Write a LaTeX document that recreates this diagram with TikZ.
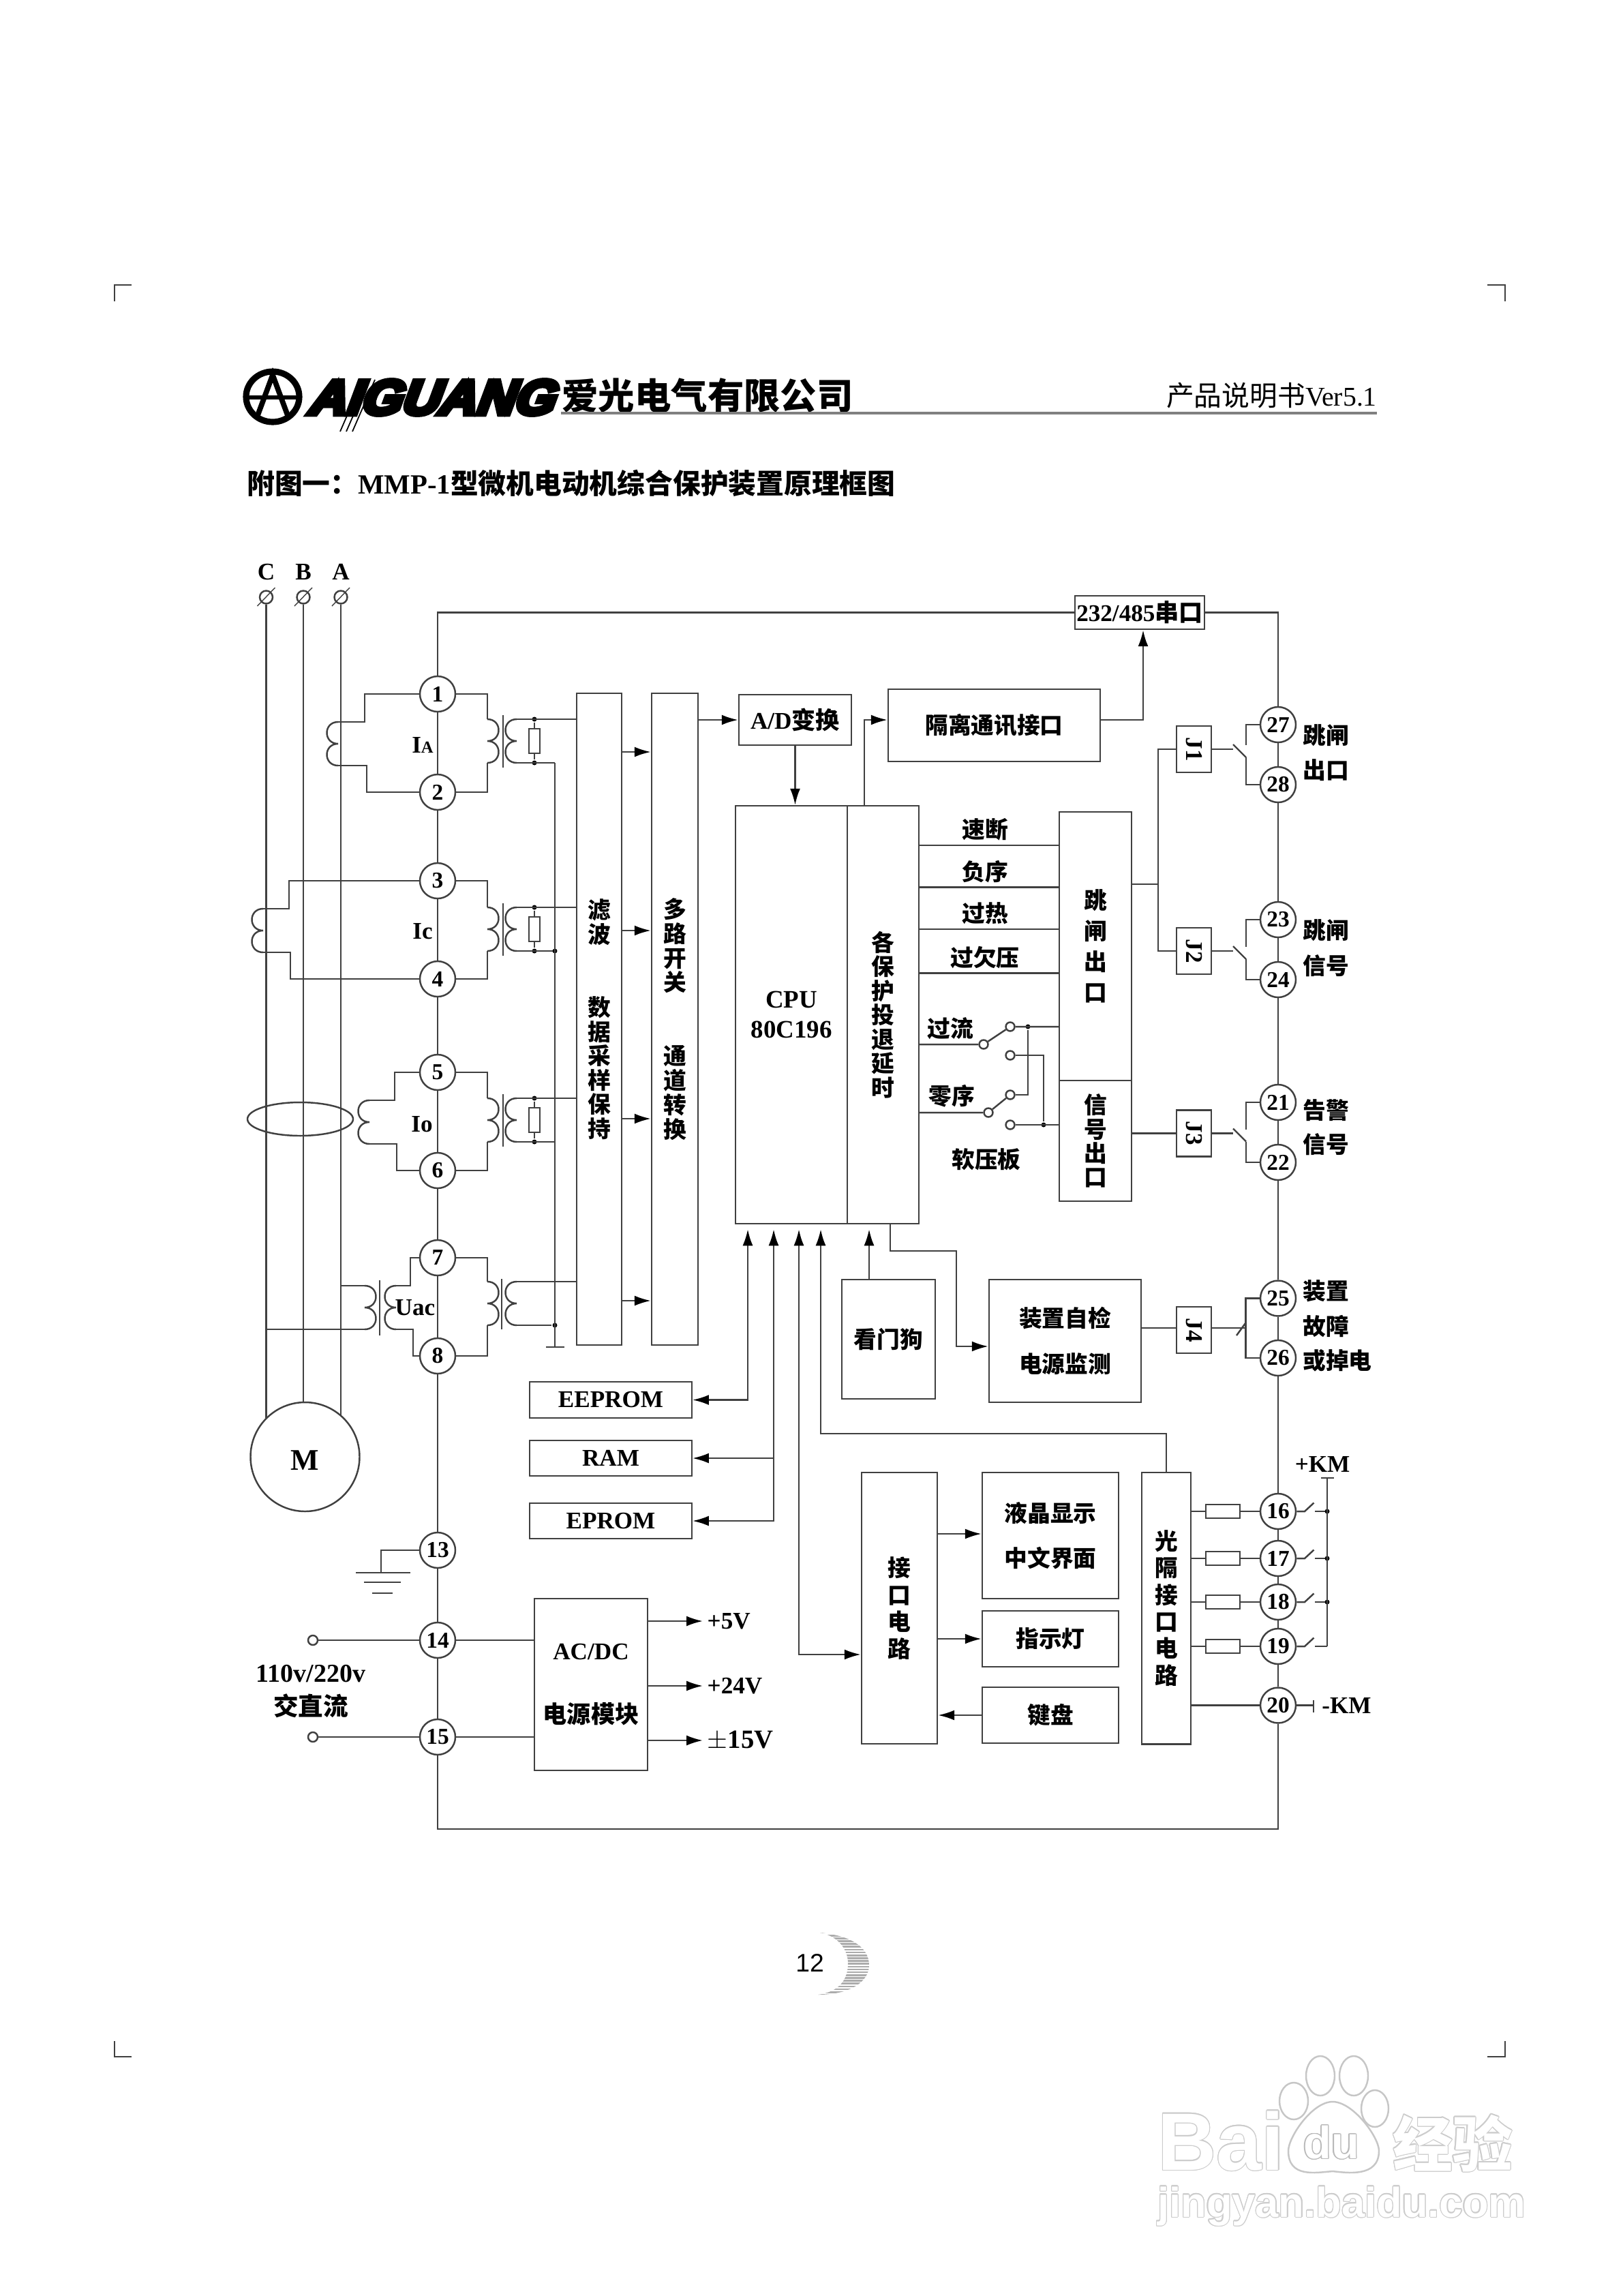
\documentclass[tikz,border=0pt]{standalone}
\usepackage{fontspec}
\usepackage{graphicx}
\usepackage{contour}
\usepackage{amsmath}
\usetikzlibrary{arrows.meta}
\setmainfont{Liberation Serif}
\newfontfamily\cjk{Noto Sans CJK SC}
\newfontfamily\sansf{Liberation Sans}
\newfontfamily\logofont[FakeSlant=.35,FakeBold=10]{Liberation Sans}
\newcommand{\zh}[1]{{\cjk #1}}
\contourlength{.35pt}
\definecolor{wiregrey}{gray}{.25}
\tikzset{
  every node/.style={text=black,inner sep=0pt,font=\bfseries\fontsize{10}{12}\selectfont},
  zh/.style={font=\bfseries\cjk\fontsize{9.6}{#1}\selectfont,align=center},
  zh/.default=11pt,
  block/.style={draw,rectangle,minimum width=#1},
  term/.style={draw,circle,fill=white,minimum size=.52cm,font=\bfseries\fontsize{9.5}{10}\selectfont},
  dot/.style={fill=black,circle,minimum size=.07cm},
  contact/.style={draw,circle,fill=white,minimum size=.13cm},
  shunt/.style={draw,rectangle,fill=white,minimum width=.16cm,minimum height=.36cm},
  series/.style={draw,rectangle,fill=white,minimum width=.5cm,minimum height=.2cm},
  relay/.style={draw,rectangle,minimum width=.51cm,minimum height=.68cm},
  >={Latex[length=2.4mm,width=1.5mm,black]},
  short/.style={shorten >=.07cm},
  coil/.pic={\draw (0,0) .. controls (.22,0) and (.22,.32) .. (0,.32)
    .. controls (.22,.32) and (.22,.64) .. (0,.64);},
  pawmark/.style={draw=gray!45,fill=white,line width=.7pt}
}
\begin{document}
\begin{tikzpicture}[y=-1cm,line width=.7pt,color=wiregrey]
  \useasboundingbox (0,0) rectangle (23.81,33.68);
  % page corners
  \draw (1.68,4.42) -- (1.68,4.18) -- (1.93,4.18);
  \draw (21.82,4.18) -- (22.08,4.18) -- (22.08,4.42);
  \draw (1.68,29.94) -- (1.68,30.17) -- (1.93,30.17);
  \draw (21.82,30.17) -- (22.08,30.17) -- (22.08,29.94);
  % header
  \draw[black,line width=2.6pt] (4.00,5.82) ellipse (.39 and .37);
  \draw[black,line width=2.2pt] (3.77,6.12) -- (4.00,5.50) -- (4.23,6.12);
  \draw[black,line width=1.8pt] (3.60,5.83) -- (4.40,5.83);
  \node (brand) at (6.30,5.83) {\resizebox{3.60cm}{.5cm}{\logofont AIGUANG}};
  \foreach \x in {4.99,5.08,5.17}
    \draw[black,line width=.5pt] (\x,6.33) -- ({\x+.33},5.57);
  \node (company) at (10.38,5.80) {\zh{\fontsize{15.2}{17}\selectfont 爱光电气有限公司}};
  \node[anchor=east,font=\mdseries\fontsize{11.3}{13}\selectfont] (manual) at (20.21,5.80)
    {\zh{\fontsize{11.6}{13}\selectfont 产品说明书}Ver5.1};
  \draw[line width=1.1pt,gray] (8.23,6.06) -- (20.20,6.06);
  \node[anchor=west,font=\bfseries\fontsize{11.6}{14}\selectfont] (heading) at (3.61,7.09)
    {\zh{附图一：}MMP-1\zh{型微机电动机综合保护装置原理框图}};

  % terminals
  \foreach \n/\y in {1/10.18,2/11.62,3/12.92,4/14.36,5/15.73,6/17.17,7/18.45,8/19.89,13/22.74,14/24.06,15/25.48}
    \node[term] (t\n) at (6.42,\y) {\n};
  \foreach \n/\y in {27/10.63,28/11.51,23/13.49,24/14.37,21/16.17,22/17.05,25/19.045,26/19.92,16/22.17,17/22.86,18/23.50,19/24.15,20/25.015}
    \node[term] (t\n) at (18.75,\y) {\n};
  \foreach \a/\b in {1/2,2/3,3/4,4/5,5/6,6/7,7/8,8/13,13/14,14/15,27/28,28/23,23/24,24/21,21/22,22/25,25/26,26/16,16/17,17/18,18/19,19/20}
    \draw (t\a) -- (t\b);

  % motor and phases
  \node[draw,circle,minimum size=1.6cm,font=\bfseries\fontsize{12.5}{14}\selectfont] (motor) at (4.475,21.37) {\raisebox{-.19cm}[0pt][0pt]{M}};
  \foreach \p/\lab/\x/\ang in {c/C/3.905/135,b/B/4.45/90,a/A/5.00/49} {
    \node[draw,circle,minimum size=.19cm] (p\p) at (\x,8.76) {};
    \node (lab\p) at (\x,8.39) {\lab};
    \draw[line width=.4pt] ({\x-.13},8.89) -- ({\x+.13},8.62);
    \draw (p\p) -- (p\p |- motor.\ang);
  }
  \draw (4.405,16.415) ellipse (.775 and .245);

  % sampling blocks
  \node[block=.665cm,minimum height=9.56cm,zh=10.1pt] (filt) at (8.79,14.95)
    {滤\\波\\[.72cm]数\\据\\采\\样\\保\\持};
  \node[block=.68cm,minimum height=9.56cm,zh=10.2pt] (mux) at (9.90,14.95)
    {多\\路\\开\\关\\[.72cm]通\\道\\转\\换};
  \foreach \y in {11.03,13.65,16.41,19.08}
    \draw[->] (filt.east |- 0,\y) -- (mux.west |- 0,\y);

  % current transformers
  \foreach \up/\low/\y/\n in {1/2/10.55/a,3/4/13.31/c,5/6/16.11/o} {
    \draw (t\up.east) -| (7.15,\y);
    \pic at (7.15,\y) {coil};
    \draw (t\low.east) -| (7.15,{\y+.64});
    \draw (7.38,{\y-.06}) -- (7.38,{\y+.71});
    \pic[xscale=-1] at (7.58,\y) {coil};
    \node[shunt] (shunt\n) at (7.84,{\y+.32}) {};
    \node[dot] (up\n) at (7.84,\y) {};
    \node[dot] (low\n) at (7.84,{\y+.64}) {};
    \draw (up\n) -- (shunt\n) -- (low\n);
    \draw (7.58,\y) -- (filt.west |- up\n);
    \draw (7.58,{\y+.64}) -- (8.14,{\y+.64});
  }
  \draw (t1.west) -| (5.35,10.59) -- (4.96,10.59);
  \pic[xscale=-1] at (4.96,10.59) {coil};
  \draw (4.96,11.23) -- (5.38,11.23) |- (t2.west);
  \node (ia) at (6.20,10.93) {I{\fontsize{7}{8}\selectfont A}};
  \draw (t3.west) -| (4.24,13.33) -- (3.86,13.33);
  \pic[xscale=-1] at (3.86,13.33) {coil};
  \draw (3.86,13.97) -- (4.26,13.97) |- (t4.west);
  \node (ic) at (6.20,13.66) {Ic};
  \draw (t5.west) -| (5.79,16.14) -- (5.42,16.14);
  \pic[xscale=-1] at (5.42,16.14) {coil};
  \draw (5.42,16.78) -- (5.82,16.78) |- (t6.west);
  \node (io) at (6.19,16.49) {Io};

  % voltage transformers
  \draw (pa |- 0,18.86) -- (5.35,18.86);
  \pic at (5.35,18.86) {coil};
  \draw (pc |- 0,19.50) -- (5.35,19.50);
  \draw (5.57,18.78) -- (5.57,19.59);
  \pic[xscale=-1] at (5.81,18.86) {coil};
  \draw (t7.west) -| (6.02,18.86) -- (5.81,18.86);
  \draw (t8.west) -| (6.06,19.50) -- (5.81,19.50);
  \node (uac) at (6.09,19.18) {Uac};
  \draw (t7.east) -| (7.15,18.80);
  \pic at (7.15,18.80) {coil};
  \draw (t8.east) -| (7.15,19.44);
  \draw (7.36,18.76) -- (7.36,19.50);
  \pic[xscale=-1] at (7.58,18.80) {coil};
  \draw (7.58,18.80) -- (filt.west |- 0,18.80);
  \node[dot] (common) at (8.14,19.44) {};
  \draw (7.58,19.44) -- (common);
  \node[dot] (commonc) at (8.14,13.95) {};
  \draw (8.14,11.19) -- (8.14,19.76);
  \draw (8.01,19.76) -- (8.28,19.76);

  % cpu
  \node[block=1.64cm,minimum height=6.13cm,align=center,font=\bfseries\fontsize{10.5}{12.4}\selectfont] (cpu) at (11.61,14.885) {CPU\\80C196};
  \node[block=1.05cm,minimum height=6.13cm,zh=10.1pt] (prot) at (12.955,14.885) {各\\保\\护\\投\\退\\延\\时};
  \node[block=1.65cm,minimum height=.74cm] (ad) at (11.665,10.56) {A/D\zh{变换}};
  \node[block=3.11cm,minimum height=1.06cm,zh] (iso) at (14.585,10.64) {隔离通讯接口};
  \node[block=1.90cm,minimum height=.49cm] (serial) at (16.72,8.985) {232/485\zh{串口}};
  \draw (t1) |- (serial.west);
  \draw (serial.east) -| (t27);
  \draw[->] (mux.east |- ad.west) -- (ad.west);
  \draw[->] (ad.south) -- (cpu.north -| ad.south);
  \draw[->] (12.68,0 |- prot.north) |- (iso.west |- 0,10.56);
  \draw[->] (iso.east |- 0,10.56) -| (16.77,0 |- serial.south);

  % outputs
  \node[block=1.06cm,minimum height=3.94cm,zh=12.8pt] (trip) at (16.07,13.88) {跳\\闸\\出\\口};
  \node[block=1.06cm,minimum height=1.77cm,zh=10pt] (sig) at (16.07,16.735) {信\\号\\出\\口};
  \foreach \y/\lab/\n in {12.40/速断/1,13.015/负序/2,13.63/过热/3,14.275/过欠压/4} {
    \draw (prot.east |- 0,\y) -- (trip.west |- 0,\y);
    \node[zh] (prot\n) at (14.45,{\y-.23}) {\lab};
  }
  \node[contact] (ka) at (14.43,15.32) {};
  \node[contact] (kb) at (14.82,15.06) {};
  \node[contact] (kc) at (14.82,15.48) {};
  \node[contact] (la) at (14.50,16.32) {};
  \node[contact] (lb) at (14.82,16.06) {};
  \node[contact] (lc) at (14.82,16.50) {};
  \node[dot] (tripdot) at (15.08,15.06) {};
  \node[dot] (sigdot) at (15.31,16.50) {};
  \draw (prot.east |- ka) -- (ka) -- (kb) -- (trip.west |- kb);
  \draw (prot.east |- la) -- (la) -- (lb);
  \draw (tripdot) |- (lb);
  \draw (lc) -- (sig.west |- lc);
  \draw (kc) -| (sigdot);
  \node[zh] (over) at (13.94,15.09) {过流};
  \node[zh] (zero) at (13.96,16.08) {零序};
  \node[zh] (soft) at (14.47,17.01) {软压板};

  % relays
  \coordinate (tripfork) at (16.99,12.97);
  \node[relay] (relay1) at (17.515,10.99) {\rotatebox{-90}{J1}};
  \node[relay] (relay2) at (17.515,13.95) {\rotatebox{-90}{J2}};
  \node[relay] (relay3) at (17.515,16.625) {\rotatebox{-90}{J3}};
  \node[relay] (relay4) at (17.515,19.51) {\rotatebox{-90}{J4}};
  \draw (trip.east |- tripfork) -- (tripfork);
  \draw (relay1.west) -| (tripfork) |- (relay2.west);
  \draw (sig.east |- relay3.west) -- (relay3.west);
  \foreach \j/\a/\b/\y in {1/27/28/10.99,2/23/24/13.95,3/21/22/16.625} {
    \coordinate (open\j) at (18.09,\y);
    \draw (relay\j.east) -- (open\j);
    \draw (open\j |- 0,{\y-.07}) -- (18.28,{\y+.12});
    \draw (t\a.west) -| (18.28,{\y-.06});
    \draw (t\b.west) -| (18.28,{\y+.12});
  }
  \node[block=2.23cm,minimum height=1.80cm,zh=19pt] (self) at (15.625,19.67) {装置自检\\电源监测};
  \node[block=1.37cm,minimum height=1.75cm,zh] (dog) at (13.035,19.645) {看门狗};
  \draw[->,short] (12.75,0 |- dog.north) -- (12.75,0 |- prot.south);
  \draw[->] (13.06,0 |- prot.south) |- (14.03,18.35) |- (self.west |- 0,19.75);
  \draw (self.east |- 0,19.48) -- (relay4.west |- 0,19.48);
  \draw (t25.west) -| (18.275,19.48) |- (t26.west);
  \draw (relay4.east |- 0,19.48) -- (18.275,19.48);
  \draw (18.14,19.59) -- (18.27,19.41);
  \node[zh] (alarm1) at (19.45,10.79) {跳闸};
  \node[zh] (alarm2) at (19.45,11.30) {出口};
  \node[zh] (alarm3) at (19.45,13.65) {跳闸};
  \node[zh] (alarm4) at (19.45,14.17) {信号};
  \node[zh] (alarm5) at (19.45,16.29) {告警};
  \node[zh] (alarm6) at (19.45,16.79) {信号};
  \node[zh] (alarm7) at (19.45,18.94) {装置};
  \node[zh] (alarm8) at (19.45,19.45) {故障};
  \node[zh] (alarm9) at (19.62,19.955) {或掉电};

  % memory
  \node[block=2.375cm,minimum height=.53cm] (eeprom) at (8.96,20.535) {EEPROM};
  \node[block=2.375cm,minimum height=.52cm] (ram) at (8.96,21.39) {RAM};
  \node[block=2.375cm,minimum height=.52cm] (eprom) at (8.96,22.31) {EPROM};
  \draw[<->,short] (eeprom.east) -| (10.97,0 |- cpu.south);
  \draw[<->,short] (eprom.east) -| (11.35,0 |- cpu.south);
  \draw[->] (11.35,0 |- ram.east) -- (ram.east);

  % interface
  \node[block=1.11cm,minimum height=3.98cm,zh=11.3pt] (iface) at (13.195,23.59) {接\\口\\电\\路};
  \node[block=2.0cm,minimum height=1.85cm,zh=18.9pt] (lcd) at (15.41,22.525) {液晶显示\\中文界面};
  \node[block=2.0cm,minimum height=.82cm,zh] (lamp) at (15.41,24.04) {指示灯};
  \node[block=2.0cm,minimum height=.82cm,zh] (keys) at (15.41,25.16) {键盘};
  \node[block=.725cm,minimum height=3.985cm,zh=11.2pt] (opto) at (17.11,23.59) {光\\隔\\接\\口\\电\\路};
  \draw[<->,shorten <=.07cm] (11.72,0 |- cpu.south) |- (iface.west |- 0,24.27);
  \draw[->] (iface.east |- 0,22.50) -- (lcd.west |- 0,22.50);
  \draw[->] (iface.east |- lamp.west) -- (lamp.west);
  \draw[->] (keys.west) -- (iface.east |- keys.west);
  \draw[->,short] (opto.north) |- (12.04,21.03) -- (12.04,0 |- cpu.south);
  \foreach \n/\y in {16/22.17,17/22.86,18/23.50,19/24.15} {
    \node[series] (r\n) at (17.94,\y) {};
    \draw (opto.east |- r\n) -- (r\n) -- (t\n);
    \draw (t\n.east) -- (19.14,\y) -- (19.275,{\y-.125});
    \draw (19.29,\y) -- (19.47,\y);
  }
  \foreach \n/\y in {16/22.17,17/22.86,18/23.50}
    \node[dot] (kmdot\n) at (19.47,\y) {};
  \draw (19.47,21.68) -- (19.47,24.15);
  \draw (19.38,21.68) -- (19.57,21.68);
  \node (pluskm) at (19.40,21.48) {+KM};
  \draw (t20) -- (opto.east |- t20);
  \draw (t20.east) -- (19.27,25.015);
  \draw (19.27,24.94) -- (19.27,25.12);
  \node (minuskm) at (19.755,25.015) {-KM};

  % ground and supply
  \draw (t13.west) -| (5.59,23.07);
  \draw (5.22,23.07) -- (6.02,23.07);
  \draw (5.34,23.21) -- (5.88,23.21);
  \draw (5.46,23.37) -- (5.76,23.37);
  \node[contact,minimum size=.14cm] (acin1) at (4.59,24.06) {};
  \node[contact,minimum size=.14cm] (acin2) at (4.59,25.48) {};
  \node[font=\bfseries\fontsize{10.8}{12}\selectfont] (acv) at (4.56,24.55) {110v/220v};
  \node[zh,font=\bfseries\cjk\fontsize{10.4}{12}\selectfont] (acdcl) at (4.56,25.02) {交直流};
  \node[block=1.66cm,minimum height=2.52cm,align=center] (acdc) at (8.67,24.71)
    {AC/DC\\[.5cm]\zh{电源模块}};
  \draw (acin1) -- (t14) -- (acdc.west |- t14);
  \draw (acin2) -- (t15) -- (acdc.west |- t15);
  \foreach \n/\y/\lab in {a/23.78/+5V,b/24.73/+24V,c/25.53/{\fontsize{11}{12}\selectfont$\pm$15V}} {
    \node[anchor=west,inner sep=.055cm] (out\n) at (10.31,\y) {\lab};
    \draw[->] (acdc.east |- out\n) -- (out\n.west);
  }
  \coordinate (busbase) at (18.75,26.83);
  \draw (t15) |- (busbase) -- (t20);

  % footer
  \node[font=\sansf\fontsize{10.6}{12}\selectfont] (pageno) at (11.88,28.79) {12};
  \begin{scope}
    \clip (12.03,28.35) .. controls (12.55,28.40) and (12.75,28.60) .. (12.75,28.83)
      .. controls (12.75,29.05) and (12.50,29.26) .. (12.00,29.26)
      .. controls (12.30,29.22) and (12.44,29.05) .. (12.44,28.80)
      .. controls (12.44,28.60) and (12.30,28.40) .. (12.03,28.35);
    \foreach \s in {0,...,22}
      \draw[gray!65,line width=.75pt] (11.9,{28.35+\s*.0415}) -- (12.8,{28.35+\s*.0415});
  \end{scope}

  % site mark
  \node[anchor=base west,text=white,font=\sansf\bfseries\fontsize{34}{40}\selectfont] (markbai) at (16.97,31.83) {\contour{gray!40}{Bai}};
  \draw[pawmark] (19.37,30.45) ellipse (.21 and .29);
  \draw[pawmark] (19.86,30.45) ellipse (.21 and .29);
  \draw[pawmark] (18.98,30.82) ellipse (.21 and .27);
  \draw[pawmark] (20.17,30.93) ellipse (.20 and .27);
  \draw[pawmark] (19.55,30.83) .. controls (19.85,30.83) and (20.23,31.35) .. (20.23,31.55)
    .. controls (20.23,31.95) and (19.75,31.87) .. (19.55,31.85)
    .. controls (19.30,31.87) and (18.90,31.95) .. (18.90,31.55)
    .. controls (18.90,31.35) and (19.25,30.83) .. (19.55,30.83);
  \node[text=white,font=\sansf\bfseries\fontsize{19}{22}\selectfont] (markdu) at (19.53,31.43) {\contour{gray!55}{du}};
  \node[anchor=base west,text=white,font=\bfseries\cjk\fontsize{25}{28}\selectfont] (markcn) at (20.42,31.78) {\contour{gray!40}{经验}};
  \node[anchor=base west,text=white,font=\sansf\bfseries\fontsize{17.5}{22}\selectfont] (markurl) at (16.97,32.52) {\contour{gray!40}{jingyan.baidu.com}};
\end{tikzpicture}
\end{document}
